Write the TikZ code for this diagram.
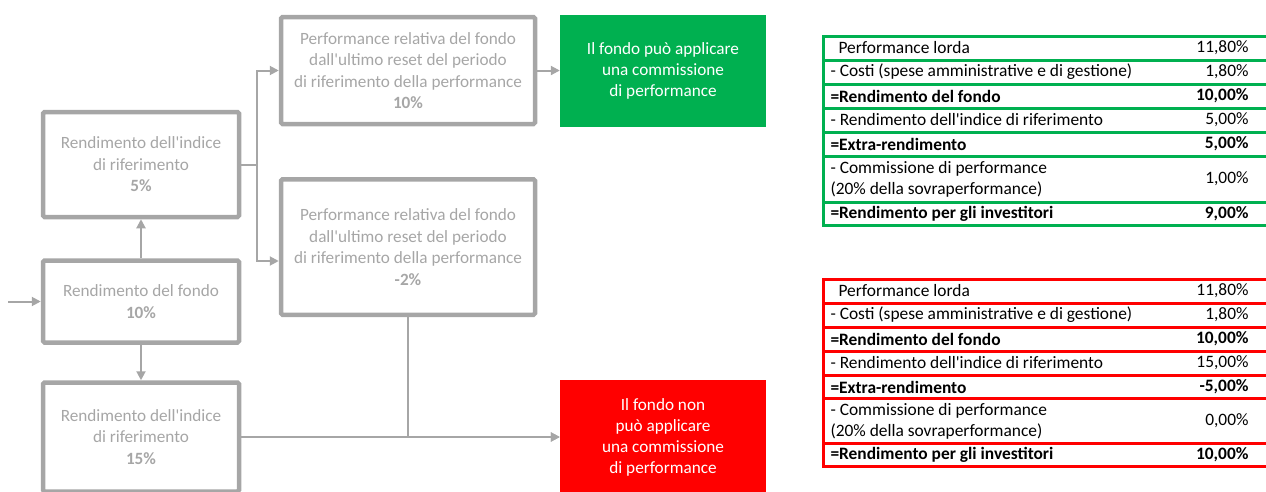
\documentclass[tikz,border=0pt]{standalone}
\usepackage{fontspec}
\setmainfont{Carlito}
\usetikzlibrary{arrows.meta}

\definecolor{boxgray}{HTML}{A6A6A6}
\definecolor{okgreen}{HTML}{00B050}
\definecolor{kored}{HTML}{FF0000}

\tikzset{
	stepbox/.style={draw=boxgray, line width=4.5pt, rounded corners=1.5pt, text=boxgray, align=center, inner sep=0pt, font=\fontsize{17.2}{21.5}\selectfont},
	outbox/.style={text=white, align=center, inner sep=0pt, font=\fontsize{17.2}{21}\selectfont},
	arr/.style={draw=boxgray, line width=2pt, -{Triangle[length=9pt,width=9pt]}},
	link/.style={draw=boxgray, line width=2pt},
	cell/.style={align=left, inner sep=0pt, font=\fontsize{17.4}{21}\selectfont}
}

\begin{document}
\begin{tikzpicture}[x=1pt,y=-1pt]
	\useasboundingbox (0,0) rectangle (1266,491);
	\clip (0,0) rectangle (1266,491);

	% flow chart
	\begin{scope}
		\node[stepbox, minimum width=196pt, minimum height=82pt] (fund) at (141,301.5) {Rendimento del fondo\\\textbf{10\%}};
		\node[stepbox, minimum width=196pt, minimum height=105pt] (idxlow) at (141,164.5) {Rendimento dell\textquotesingle indice\\di riferimento\\\textbf{5\%}};
		\node[stepbox, minimum width=196pt, minimum height=109pt] (idxhigh) at (141,437) {Rendimento dell\textquotesingle indice\\di riferimento\\\textbf{15\%}};
		\node[stepbox, minimum width=254pt, minimum height=107pt] (perfpos) at (408,70.5) {Performance relativa del fondo\\dall\textquotesingle ultimo reset del periodo\\di riferimento della performance\\\textbf{10\%}};
		\node[stepbox, minimum width=254pt, minimum height=135.5pt] (perfneg) at (408,247) {Performance relativa del fondo\\dall\textquotesingle ultimo reset del periodo\\di riferimento della performance\\\textbf{-2\%}};
		\node[outbox, fill=okgreen, minimum width=206pt, minimum height=112pt] (canfee) at (663,71) {Il fondo può applicare\\una commissione\\di performance};
		\node[outbox, fill=kored, minimum width=206pt, minimum height=114pt] (nofee) at (663,437) {Il fondo non\\può applicare\\una commissione\\di performance};
	\end{scope}

	\begin{scope}
		\coordinate (in) at (8,301.5);
		\coordinate (split) at (257,164.5);
		\draw[arr] (in) -- (fund.west);
		\draw[arr] (fund.north) -- (idxlow.south);
		\draw[arr] (fund.south) -- (idxhigh.north);
		\draw[link] (idxlow.east) -- (split);
		\draw[arr] (split) |- (perfpos.west);
		\draw[arr] (split) |- ([yshift=-14pt]perfneg.west);
		\draw[arr] (perfpos.east) -- (perfpos.east -| canfee.west);
		\draw[arr] (perfneg.south) |- (nofee.west);
		\draw[arr] (idxhigh.east) -- (nofee.west);
	\end{scope}

	% tables
	\begin{scope}[line width=3pt]
		\draw[okgreen] (823,36) rectangle (1267,225);
		\foreach \y in {60,84,108,132,156,202}
			\draw[okgreen] (823,\y) -- (1267,\y);
		\foreach \y/\txt/\val [count=\i] in {48/{\hspace*{8pt}Performance lorda}/{11,80\%},
				72/{- Costi (spese amministrative e di gestione)}/{1,80\%},
				96/{\textbf{=Rendimento del fondo}}/{\textbf{10,00\%}},
				120/{- Rendimento dell\textquotesingle indice di riferimento}/{5,00\%},
				144/{\textbf{=Extra-rendimento}}/{\textbf{5,00\%}},
				179/{- Commissione di performance\\(20\% della sovraperformance)}/{1,00\%},
				213.5/{\textbf{=Rendimento per gli investitori}}/{\textbf{9,00\%}}} {
			\node[cell, anchor=west] (gl\i) at (829,\y) {\txt};
			\node[cell, anchor=east] (gv\i) at (1250,\y) {\val};
		}
	\end{scope}

	\begin{scope}[line width=3pt, shift={(0,243)}]
		\draw[kored] (823,36) rectangle (1267,223);
		\foreach \y in {60,84,108,132,155,200}
			\draw[kored] (823,\y) -- (1267,\y);
		\foreach \y/\txt/\val [count=\i] in {48/{\hspace*{8pt}Performance lorda}/{11,80\%},
				72/{- Costi (spese amministrative e di gestione)}/{1,80\%},
				96/{\textbf{=Rendimento del fondo}}/{\textbf{10,00\%}},
				120/{- Rendimento dell\textquotesingle indice di riferimento}/{15,00\%},
				144/{\textbf{=Extra-rendimento}}/{\textbf{-5,00\%}},
				178/{- Commissione di performance\\(20\% della sovraperformance)}/{0,00\%},
				212/{\textbf{=Rendimento per gli investitori}}/{\textbf{10,00\%}}} {
			\node[cell, anchor=west] (rl\i) at (829,\y) {\txt};
			\node[cell, anchor=east] (rv\i) at (1250,\y) {\val};
		}
	\end{scope}
\end{tikzpicture}
\end{document}
